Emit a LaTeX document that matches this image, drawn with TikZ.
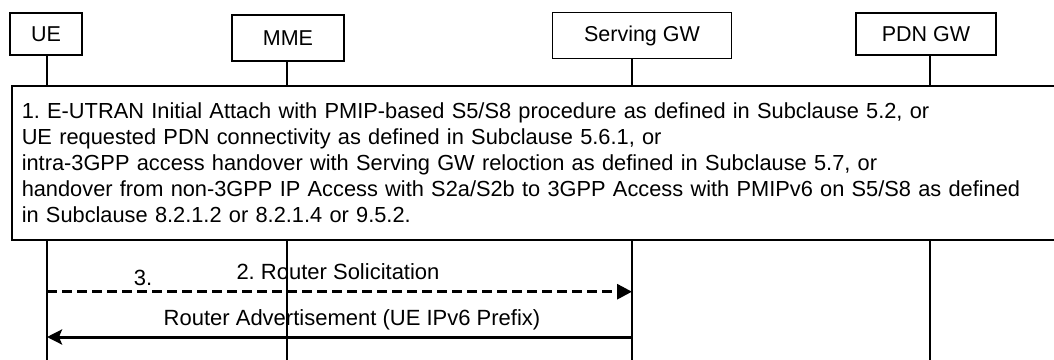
\documentclass[tikz,border=0pt]{standalone}
\usepackage{fontspec}
\setmainfont{Liberation Sans}
\usetikzlibrary{arrows.meta}
\frenchspacing

\tikzset{
  entity/.style={draw, line width=1.5pt, inner sep=0pt, font=\fontsize{21.5}{26}\selectfont},
  life/.style={line width=1.5pt},
  note/.style={draw, line width=1.5pt, fill=white, anchor=north west, inner xsep=10pt, inner ysep=0pt,
    text width=1030pt, minimum height=154pt, align=left, font=\fontsize{21.8}{26.2}\selectfont},
  msg/.style={line width=3pt},
  lbl/.style={inner sep=0pt, font=\fontsize{22}{26}\selectfont}
}

\begin{document}
\begin{tikzpicture}[x=1pt, y=-1pt]
    \useasboundingbox (0,0) rectangle (1054,359);

    % entities
    \node[entity, minimum width=72pt, minimum height=42pt] (ue) at (46,34) {UE};
    \node[entity, minimum width=112pt, minimum height=46pt] (mme) at (288,38) {MME};
    \node[entity, minimum width=179pt, minimum height=46pt] (sgw) at (642,35.5) {Serving GW};
    \node[entity, minimum width=140pt, minimum height=42pt] (pdn) at (926,34) {PDN GW};

    % step 1
    \node[note] (attach) at (11,85) {1. E-UTRAN Initial Attach with PMIP-based S5/S8 procedure as defined in Subclause 5.2, or\\
        UE requested PDN connectivity as defined in Subclause 5.6.1, or\\
        intra-3GPP access handover with Serving GW reloction as defined in Subclause 5.7, or\\
        handover from non-3GPP IP Access with S2a/S2b to 3GPP Access with PMIPv6 on S5/S8 as defined\\
        in Subclause 8.2.1.2 or 8.2.1.4 or 9.5.2.};

    % lifelines
    \coordinate (bottom) at (0,362);
    \foreach \n/\x in {ue/47, mme/287, sgw/632, pdn/930} {
        \coordinate (\n-l) at (\x,0);
        \draw[life] (\n.south -| \n-l) -- (\n-l |- attach.north);
        \draw[life] (\n-l |- attach.south) -- (\n-l |- bottom);
    }

    % steps 2 and 3
    \coordinate (rs) at (0,291.7);
    \coordinate (ra) at (0,337);
    \draw[msg, dash pattern=on 10pt off 5pt, -{Triangle[length=15pt, width=15pt]}] (ue-l |- rs) -- (sgw-l |- rs);
    \draw[msg, -{Stealth[length=15pt, width=15pt, inset=3pt]}] (sgw-l |- ra) -- (ue-l |- ra);
    \node[lbl] (rs-text) at (338,272) {2. Router Solicitation};
    \node[lbl] (three) at (143,278) {3.};
    \node[lbl] (ra-text) at (352,320) {Router Advertisement (UE IPv6 Prefix)};
\end{tikzpicture}
\end{document}
